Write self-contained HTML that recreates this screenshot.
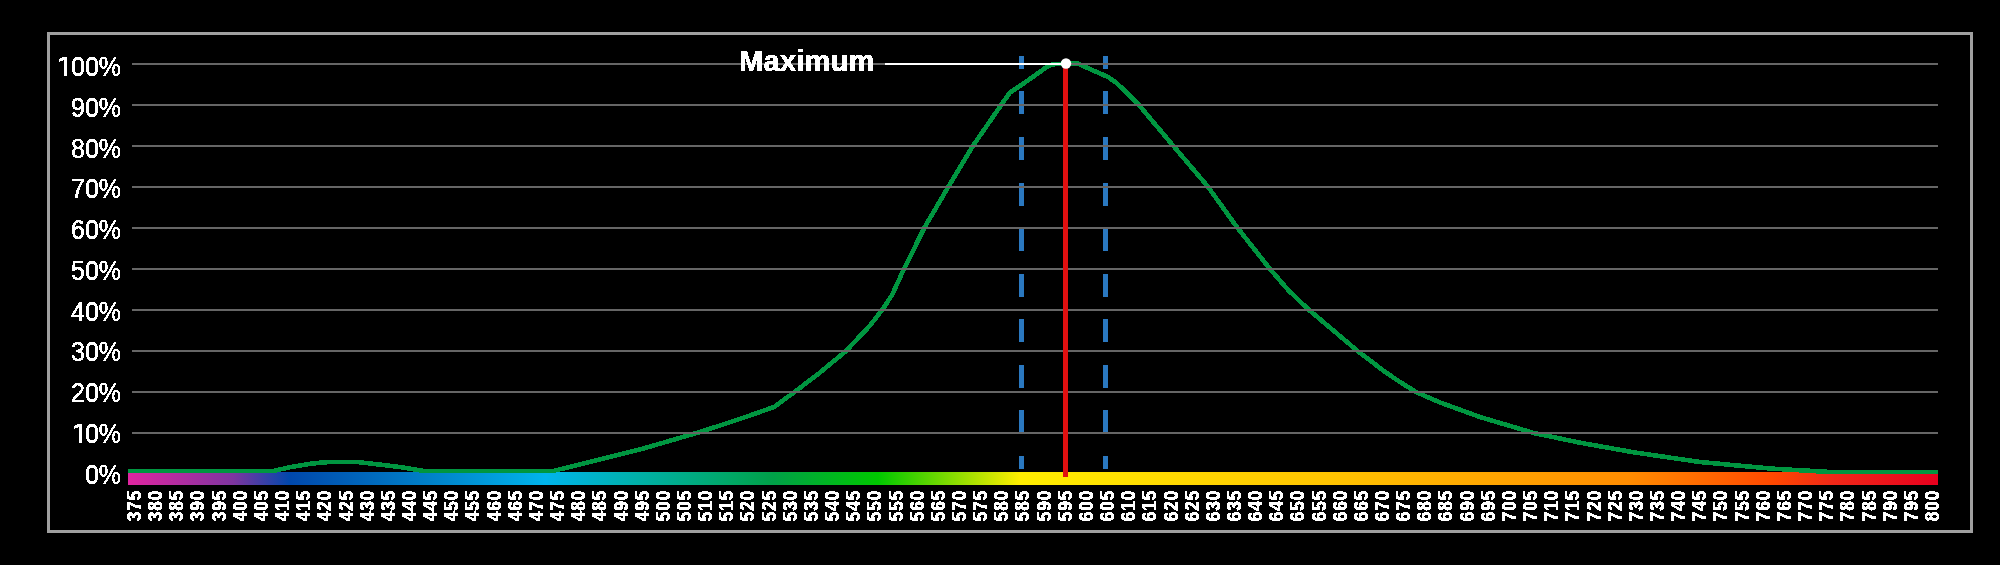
<!DOCTYPE html><html><head><meta charset="utf-8"><style>html,body{margin:0;padding:0;background:#000;width:2000px;height:565px;overflow:hidden}svg{display:block;will-change:transform}text{font-family:"Liberation Sans",sans-serif}</style></head><body><svg width="2000" height="565" viewBox="0 0 2000 565" shape-rendering="crispEdges"><defs><linearGradient id="sp" gradientUnits="userSpaceOnUse" x1="128" y1="0" x2="1938" y2="0"><stop offset="0.0000" stop-color="rgb(225, 37, 160)"/><stop offset="0.0580" stop-color="rgb(127, 53, 160)"/><stop offset="0.0895" stop-color="rgb(0, 72, 172)"/><stop offset="0.1657" stop-color="rgb(0, 128, 200)"/><stop offset="0.2304" stop-color="rgb(0, 180, 236)"/><stop offset="0.2818" stop-color="rgb(0, 176, 168)"/><stop offset="0.3315" stop-color="rgb(0, 168, 104)"/><stop offset="0.3564" stop-color="rgb(0, 160, 72)"/><stop offset="0.4144" stop-color="rgb(0, 200, 0)"/><stop offset="0.4928" stop-color="rgb(255, 238, 0)"/><stop offset="0.6630" stop-color="rgb(255, 196, 0)"/><stop offset="0.8287" stop-color="rgb(255, 140, 0)"/><stop offset="0.9088" stop-color="rgb(255, 72, 0)"/><stop offset="0.9420" stop-color="rgb(240, 40, 24)"/><stop offset="1.0000" stop-color="rgb(232, 0, 30)"/></linearGradient><filter id="crisp" x="-10%" y="-30%" width="120%" height="160%"><feComponentTransfer><feFuncA type="discrete" tableValues="0 1"/></feComponentTransfer></filter></defs><rect x="48.5" y="33.5" width="1923" height="498" fill="none" stroke="#a0a0a0" stroke-width="3"/><rect x="128" y="472" width="1810" height="13" fill="url(#sp)"/><path d="M128,471 L273,471 L290.5,467.1 L307.5,464.2 L322,462.4 L332,462 L357,462 L370.5,463.5 L387.5,465.5 L404.5,467.7 L417.2,469.9 L425,471.1 L553,471 L640,449.5 L700,432 L726,423.5 L747,416.5 L774,407 L794.5,392 L820,372.5 L846,351 L869.6,326 L882.5,309.5 L892,295 L904.2,268.5 L924.5,227.5 L948.5,186.5 L973.2,145.5 L1001.5,104.5 L1010,92.5 L1021.5,84.8 L1030,79 L1046.3,67.2 L1053,64.3 L1066,63.5 L1077,63.3 L1108,77 L1116,82.6 L1126.6,92.4 L1138.5,104.5 L1173,145.5 L1207.8,186.5 L1237.2,227.5 L1269.6,268.5 L1288.4,290.3 L1308.5,309.5 L1333,330.2 L1357,350.5 L1384.8,371.7 L1400,382 L1416,392 L1440,402.5 L1480,417 L1533.7,433 L1580,442.7 L1633.7,452.3 L1700,462 L1770,468.5 L1830,472 L1938,472" fill="none" stroke="#009640" stroke-width="4.6" stroke-linejoin="round" shape-rendering="crispEdges"/><line x1="1021.5" y1="469" x2="1021.5" y2="56" stroke="#2a78c0" stroke-width="5" stroke-dasharray="23 22.57" stroke-dashoffset="10"/><line x1="1105.5" y1="469" x2="1105.5" y2="56" stroke="#2a78c0" stroke-width="5" stroke-dasharray="23 22.57" stroke-dashoffset="10"/><rect x="132" y="63" width="1806" height="2" fill="#666"/><rect x="132" y="104" width="1806" height="2" fill="#666"/><rect x="132" y="145" width="1806" height="2" fill="#666"/><rect x="132" y="186" width="1806" height="2" fill="#666"/><rect x="132" y="227" width="1806" height="2" fill="#666"/><rect x="132" y="268" width="1806" height="2" fill="#666"/><rect x="132" y="309" width="1806" height="2" fill="#666"/><rect x="132" y="350" width="1806" height="2" fill="#666"/><rect x="132" y="391" width="1806" height="2" fill="#666"/><rect x="132" y="432" width="1806" height="2" fill="#666"/><rect x="1063" y="64" width="5" height="413" fill="#e01010"/><rect x="885" y="63" width="181" height="2" fill="#fff"/><circle cx="1066" cy="63.5" r="5.2" fill="#fff" shape-rendering="auto"/><g filter="url(#crisp)"><text transform="translate(739,70.7) scale(0.98,1)" font-size="30" font-weight="bold" fill="#fff" stroke="#fff" stroke-width="0.45">Maximum</text></g><g filter="url(#crisp)"><path d="M59,59.0 L64,56.7 L67,56.7 L67,76.0 L64,76.0 L64,60.300000000000004 L59,62.0 Z" fill="#fff"/><text x="121" y="76.0" font-size="27" fill="#fff" stroke="#fff" stroke-width="0.35" text-anchor="end" transform="translate(121,76.0) scale(0.925,1) translate(-121,-76.0)">00%</text><text x="121" y="116.78" font-size="27" fill="#fff" stroke="#fff" stroke-width="0.35" text-anchor="end" transform="translate(121,116.78) scale(0.925,1) translate(-121,-116.78)">90%</text><text x="121" y="157.56" font-size="27" fill="#fff" stroke="#fff" stroke-width="0.35" text-anchor="end" transform="translate(121,157.56) scale(0.925,1) translate(-121,-157.56)">80%</text><text x="121" y="198.34" font-size="27" fill="#fff" stroke="#fff" stroke-width="0.35" text-anchor="end" transform="translate(121,198.34) scale(0.925,1) translate(-121,-198.34)">70%</text><text x="121" y="239.12" font-size="27" fill="#fff" stroke="#fff" stroke-width="0.35" text-anchor="end" transform="translate(121,239.12) scale(0.925,1) translate(-121,-239.12)">60%</text><text x="121" y="279.9" font-size="27" fill="#fff" stroke="#fff" stroke-width="0.35" text-anchor="end" transform="translate(121,279.9) scale(0.925,1) translate(-121,-279.9)">50%</text><text x="121" y="320.68" font-size="27" fill="#fff" stroke="#fff" stroke-width="0.35" text-anchor="end" transform="translate(121,320.68) scale(0.925,1) translate(-121,-320.68)">40%</text><text x="121" y="361.46000000000004" font-size="27" fill="#fff" stroke="#fff" stroke-width="0.35" text-anchor="end" transform="translate(121,361.46000000000004) scale(0.925,1) translate(-121,-361.46000000000004)">30%</text><text x="121" y="402.24" font-size="27" fill="#fff" stroke="#fff" stroke-width="0.35" text-anchor="end" transform="translate(121,402.24) scale(0.925,1) translate(-121,-402.24)">20%</text><path d="M73.8,426.02 L78.8,423.71999999999997 L81.8,423.71999999999997 L81.8,443.02 L78.8,443.02 L78.8,427.32 L73.8,429.02 Z" fill="#fff"/><text x="121" y="443.02" font-size="27" fill="#fff" stroke="#fff" stroke-width="0.35" text-anchor="end" transform="translate(121,443.02) scale(0.925,1) translate(-121,-443.02)">0%</text><text x="121" y="483.8" font-size="27" fill="#fff" stroke="#fff" stroke-width="0.35" text-anchor="end" transform="translate(121,483.8) scale(0.925,1) translate(-121,-483.8)">0%</text><text transform="translate(141.00,505.6) rotate(-90) scale(0.86,1)" text-anchor="middle" font-size="20" font-weight="bold" letter-spacing="1.1" fill="#fff" stroke="#fff" stroke-width="0.5">375</text><text transform="translate(162.15,505.6) rotate(-90) scale(0.86,1)" text-anchor="middle" font-size="20" font-weight="bold" letter-spacing="1.1" fill="#fff" stroke="#fff" stroke-width="0.5">380</text><text transform="translate(183.31,505.6) rotate(-90) scale(0.86,1)" text-anchor="middle" font-size="20" font-weight="bold" letter-spacing="1.1" fill="#fff" stroke="#fff" stroke-width="0.5">385</text><text transform="translate(204.46,505.6) rotate(-90) scale(0.86,1)" text-anchor="middle" font-size="20" font-weight="bold" letter-spacing="1.1" fill="#fff" stroke="#fff" stroke-width="0.5">390</text><text transform="translate(225.61,505.6) rotate(-90) scale(0.86,1)" text-anchor="middle" font-size="20" font-weight="bold" letter-spacing="1.1" fill="#fff" stroke="#fff" stroke-width="0.5">395</text><text transform="translate(246.76,505.6) rotate(-90) scale(0.86,1)" text-anchor="middle" font-size="20" font-weight="bold" letter-spacing="1.1" fill="#fff" stroke="#fff" stroke-width="0.5">400</text><text transform="translate(267.92,505.6) rotate(-90) scale(0.86,1)" text-anchor="middle" font-size="20" font-weight="bold" letter-spacing="1.1" fill="#fff" stroke="#fff" stroke-width="0.5">405</text><text transform="translate(289.07,505.6) rotate(-90) scale(0.86,1)" text-anchor="middle" font-size="20" font-weight="bold" letter-spacing="1.1" fill="#fff" stroke="#fff" stroke-width="0.5">410</text><text transform="translate(310.22,505.6) rotate(-90) scale(0.86,1)" text-anchor="middle" font-size="20" font-weight="bold" letter-spacing="1.1" fill="#fff" stroke="#fff" stroke-width="0.5">415</text><text transform="translate(331.38,505.6) rotate(-90) scale(0.86,1)" text-anchor="middle" font-size="20" font-weight="bold" letter-spacing="1.1" fill="#fff" stroke="#fff" stroke-width="0.5">420</text><text transform="translate(352.53,505.6) rotate(-90) scale(0.86,1)" text-anchor="middle" font-size="20" font-weight="bold" letter-spacing="1.1" fill="#fff" stroke="#fff" stroke-width="0.5">425</text><text transform="translate(373.68,505.6) rotate(-90) scale(0.86,1)" text-anchor="middle" font-size="20" font-weight="bold" letter-spacing="1.1" fill="#fff" stroke="#fff" stroke-width="0.5">430</text><text transform="translate(394.84,505.6) rotate(-90) scale(0.86,1)" text-anchor="middle" font-size="20" font-weight="bold" letter-spacing="1.1" fill="#fff" stroke="#fff" stroke-width="0.5">435</text><text transform="translate(415.99,505.6) rotate(-90) scale(0.86,1)" text-anchor="middle" font-size="20" font-weight="bold" letter-spacing="1.1" fill="#fff" stroke="#fff" stroke-width="0.5">440</text><text transform="translate(437.14,505.6) rotate(-90) scale(0.86,1)" text-anchor="middle" font-size="20" font-weight="bold" letter-spacing="1.1" fill="#fff" stroke="#fff" stroke-width="0.5">445</text><text transform="translate(458.29,505.6) rotate(-90) scale(0.86,1)" text-anchor="middle" font-size="20" font-weight="bold" letter-spacing="1.1" fill="#fff" stroke="#fff" stroke-width="0.5">450</text><text transform="translate(479.45,505.6) rotate(-90) scale(0.86,1)" text-anchor="middle" font-size="20" font-weight="bold" letter-spacing="1.1" fill="#fff" stroke="#fff" stroke-width="0.5">455</text><text transform="translate(500.60,505.6) rotate(-90) scale(0.86,1)" text-anchor="middle" font-size="20" font-weight="bold" letter-spacing="1.1" fill="#fff" stroke="#fff" stroke-width="0.5">460</text><text transform="translate(521.75,505.6) rotate(-90) scale(0.86,1)" text-anchor="middle" font-size="20" font-weight="bold" letter-spacing="1.1" fill="#fff" stroke="#fff" stroke-width="0.5">465</text><text transform="translate(542.91,505.6) rotate(-90) scale(0.86,1)" text-anchor="middle" font-size="20" font-weight="bold" letter-spacing="1.1" fill="#fff" stroke="#fff" stroke-width="0.5">470</text><text transform="translate(564.06,505.6) rotate(-90) scale(0.86,1)" text-anchor="middle" font-size="20" font-weight="bold" letter-spacing="1.1" fill="#fff" stroke="#fff" stroke-width="0.5">475</text><text transform="translate(585.21,505.6) rotate(-90) scale(0.86,1)" text-anchor="middle" font-size="20" font-weight="bold" letter-spacing="1.1" fill="#fff" stroke="#fff" stroke-width="0.5">480</text><text transform="translate(606.37,505.6) rotate(-90) scale(0.86,1)" text-anchor="middle" font-size="20" font-weight="bold" letter-spacing="1.1" fill="#fff" stroke="#fff" stroke-width="0.5">485</text><text transform="translate(627.52,505.6) rotate(-90) scale(0.86,1)" text-anchor="middle" font-size="20" font-weight="bold" letter-spacing="1.1" fill="#fff" stroke="#fff" stroke-width="0.5">490</text><text transform="translate(648.67,505.6) rotate(-90) scale(0.86,1)" text-anchor="middle" font-size="20" font-weight="bold" letter-spacing="1.1" fill="#fff" stroke="#fff" stroke-width="0.5">495</text><text transform="translate(669.82,505.6) rotate(-90) scale(0.86,1)" text-anchor="middle" font-size="20" font-weight="bold" letter-spacing="1.1" fill="#fff" stroke="#fff" stroke-width="0.5">500</text><text transform="translate(690.98,505.6) rotate(-90) scale(0.86,1)" text-anchor="middle" font-size="20" font-weight="bold" letter-spacing="1.1" fill="#fff" stroke="#fff" stroke-width="0.5">505</text><text transform="translate(712.13,505.6) rotate(-90) scale(0.86,1)" text-anchor="middle" font-size="20" font-weight="bold" letter-spacing="1.1" fill="#fff" stroke="#fff" stroke-width="0.5">510</text><text transform="translate(733.28,505.6) rotate(-90) scale(0.86,1)" text-anchor="middle" font-size="20" font-weight="bold" letter-spacing="1.1" fill="#fff" stroke="#fff" stroke-width="0.5">515</text><text transform="translate(754.44,505.6) rotate(-90) scale(0.86,1)" text-anchor="middle" font-size="20" font-weight="bold" letter-spacing="1.1" fill="#fff" stroke="#fff" stroke-width="0.5">520</text><text transform="translate(775.59,505.6) rotate(-90) scale(0.86,1)" text-anchor="middle" font-size="20" font-weight="bold" letter-spacing="1.1" fill="#fff" stroke="#fff" stroke-width="0.5">525</text><text transform="translate(796.74,505.6) rotate(-90) scale(0.86,1)" text-anchor="middle" font-size="20" font-weight="bold" letter-spacing="1.1" fill="#fff" stroke="#fff" stroke-width="0.5">530</text><text transform="translate(817.90,505.6) rotate(-90) scale(0.86,1)" text-anchor="middle" font-size="20" font-weight="bold" letter-spacing="1.1" fill="#fff" stroke="#fff" stroke-width="0.5">535</text><text transform="translate(839.05,505.6) rotate(-90) scale(0.86,1)" text-anchor="middle" font-size="20" font-weight="bold" letter-spacing="1.1" fill="#fff" stroke="#fff" stroke-width="0.5">540</text><text transform="translate(860.20,505.6) rotate(-90) scale(0.86,1)" text-anchor="middle" font-size="20" font-weight="bold" letter-spacing="1.1" fill="#fff" stroke="#fff" stroke-width="0.5">545</text><text transform="translate(881.35,505.6) rotate(-90) scale(0.86,1)" text-anchor="middle" font-size="20" font-weight="bold" letter-spacing="1.1" fill="#fff" stroke="#fff" stroke-width="0.5">550</text><text transform="translate(902.51,505.6) rotate(-90) scale(0.86,1)" text-anchor="middle" font-size="20" font-weight="bold" letter-spacing="1.1" fill="#fff" stroke="#fff" stroke-width="0.5">555</text><text transform="translate(923.66,505.6) rotate(-90) scale(0.86,1)" text-anchor="middle" font-size="20" font-weight="bold" letter-spacing="1.1" fill="#fff" stroke="#fff" stroke-width="0.5">560</text><text transform="translate(944.81,505.6) rotate(-90) scale(0.86,1)" text-anchor="middle" font-size="20" font-weight="bold" letter-spacing="1.1" fill="#fff" stroke="#fff" stroke-width="0.5">565</text><text transform="translate(965.97,505.6) rotate(-90) scale(0.86,1)" text-anchor="middle" font-size="20" font-weight="bold" letter-spacing="1.1" fill="#fff" stroke="#fff" stroke-width="0.5">570</text><text transform="translate(987.12,505.6) rotate(-90) scale(0.86,1)" text-anchor="middle" font-size="20" font-weight="bold" letter-spacing="1.1" fill="#fff" stroke="#fff" stroke-width="0.5">575</text><text transform="translate(1008.27,505.6) rotate(-90) scale(0.86,1)" text-anchor="middle" font-size="20" font-weight="bold" letter-spacing="1.1" fill="#fff" stroke="#fff" stroke-width="0.5">580</text><text transform="translate(1029.43,505.6) rotate(-90) scale(0.86,1)" text-anchor="middle" font-size="20" font-weight="bold" letter-spacing="1.1" fill="#fff" stroke="#fff" stroke-width="0.5">585</text><text transform="translate(1050.58,505.6) rotate(-90) scale(0.86,1)" text-anchor="middle" font-size="20" font-weight="bold" letter-spacing="1.1" fill="#fff" stroke="#fff" stroke-width="0.5">590</text><text transform="translate(1071.73,505.6) rotate(-90) scale(0.86,1)" text-anchor="middle" font-size="20" font-weight="bold" letter-spacing="1.1" fill="#fff" stroke="#fff" stroke-width="0.5">595</text><text transform="translate(1092.88,505.6) rotate(-90) scale(0.86,1)" text-anchor="middle" font-size="20" font-weight="bold" letter-spacing="1.1" fill="#fff" stroke="#fff" stroke-width="0.5">600</text><text transform="translate(1114.04,505.6) rotate(-90) scale(0.86,1)" text-anchor="middle" font-size="20" font-weight="bold" letter-spacing="1.1" fill="#fff" stroke="#fff" stroke-width="0.5">605</text><text transform="translate(1135.19,505.6) rotate(-90) scale(0.86,1)" text-anchor="middle" font-size="20" font-weight="bold" letter-spacing="1.1" fill="#fff" stroke="#fff" stroke-width="0.5">610</text><text transform="translate(1156.34,505.6) rotate(-90) scale(0.86,1)" text-anchor="middle" font-size="20" font-weight="bold" letter-spacing="1.1" fill="#fff" stroke="#fff" stroke-width="0.5">615</text><text transform="translate(1177.50,505.6) rotate(-90) scale(0.86,1)" text-anchor="middle" font-size="20" font-weight="bold" letter-spacing="1.1" fill="#fff" stroke="#fff" stroke-width="0.5">620</text><text transform="translate(1198.65,505.6) rotate(-90) scale(0.86,1)" text-anchor="middle" font-size="20" font-weight="bold" letter-spacing="1.1" fill="#fff" stroke="#fff" stroke-width="0.5">625</text><text transform="translate(1219.80,505.6) rotate(-90) scale(0.86,1)" text-anchor="middle" font-size="20" font-weight="bold" letter-spacing="1.1" fill="#fff" stroke="#fff" stroke-width="0.5">630</text><text transform="translate(1240.96,505.6) rotate(-90) scale(0.86,1)" text-anchor="middle" font-size="20" font-weight="bold" letter-spacing="1.1" fill="#fff" stroke="#fff" stroke-width="0.5">635</text><text transform="translate(1262.11,505.6) rotate(-90) scale(0.86,1)" text-anchor="middle" font-size="20" font-weight="bold" letter-spacing="1.1" fill="#fff" stroke="#fff" stroke-width="0.5">640</text><text transform="translate(1283.26,505.6) rotate(-90) scale(0.86,1)" text-anchor="middle" font-size="20" font-weight="bold" letter-spacing="1.1" fill="#fff" stroke="#fff" stroke-width="0.5">645</text><text transform="translate(1304.41,505.6) rotate(-90) scale(0.86,1)" text-anchor="middle" font-size="20" font-weight="bold" letter-spacing="1.1" fill="#fff" stroke="#fff" stroke-width="0.5">650</text><text transform="translate(1325.57,505.6) rotate(-90) scale(0.86,1)" text-anchor="middle" font-size="20" font-weight="bold" letter-spacing="1.1" fill="#fff" stroke="#fff" stroke-width="0.5">655</text><text transform="translate(1346.72,505.6) rotate(-90) scale(0.86,1)" text-anchor="middle" font-size="20" font-weight="bold" letter-spacing="1.1" fill="#fff" stroke="#fff" stroke-width="0.5">660</text><text transform="translate(1367.87,505.6) rotate(-90) scale(0.86,1)" text-anchor="middle" font-size="20" font-weight="bold" letter-spacing="1.1" fill="#fff" stroke="#fff" stroke-width="0.5">665</text><text transform="translate(1389.03,505.6) rotate(-90) scale(0.86,1)" text-anchor="middle" font-size="20" font-weight="bold" letter-spacing="1.1" fill="#fff" stroke="#fff" stroke-width="0.5">670</text><text transform="translate(1410.18,505.6) rotate(-90) scale(0.86,1)" text-anchor="middle" font-size="20" font-weight="bold" letter-spacing="1.1" fill="#fff" stroke="#fff" stroke-width="0.5">675</text><text transform="translate(1431.33,505.6) rotate(-90) scale(0.86,1)" text-anchor="middle" font-size="20" font-weight="bold" letter-spacing="1.1" fill="#fff" stroke="#fff" stroke-width="0.5">680</text><text transform="translate(1452.49,505.6) rotate(-90) scale(0.86,1)" text-anchor="middle" font-size="20" font-weight="bold" letter-spacing="1.1" fill="#fff" stroke="#fff" stroke-width="0.5">685</text><text transform="translate(1473.64,505.6) rotate(-90) scale(0.86,1)" text-anchor="middle" font-size="20" font-weight="bold" letter-spacing="1.1" fill="#fff" stroke="#fff" stroke-width="0.5">690</text><text transform="translate(1494.79,505.6) rotate(-90) scale(0.86,1)" text-anchor="middle" font-size="20" font-weight="bold" letter-spacing="1.1" fill="#fff" stroke="#fff" stroke-width="0.5">695</text><text transform="translate(1515.94,505.6) rotate(-90) scale(0.86,1)" text-anchor="middle" font-size="20" font-weight="bold" letter-spacing="1.1" fill="#fff" stroke="#fff" stroke-width="0.5">700</text><text transform="translate(1537.10,505.6) rotate(-90) scale(0.86,1)" text-anchor="middle" font-size="20" font-weight="bold" letter-spacing="1.1" fill="#fff" stroke="#fff" stroke-width="0.5">705</text><text transform="translate(1558.25,505.6) rotate(-90) scale(0.86,1)" text-anchor="middle" font-size="20" font-weight="bold" letter-spacing="1.1" fill="#fff" stroke="#fff" stroke-width="0.5">710</text><text transform="translate(1579.40,505.6) rotate(-90) scale(0.86,1)" text-anchor="middle" font-size="20" font-weight="bold" letter-spacing="1.1" fill="#fff" stroke="#fff" stroke-width="0.5">715</text><text transform="translate(1600.56,505.6) rotate(-90) scale(0.86,1)" text-anchor="middle" font-size="20" font-weight="bold" letter-spacing="1.1" fill="#fff" stroke="#fff" stroke-width="0.5">720</text><text transform="translate(1621.71,505.6) rotate(-90) scale(0.86,1)" text-anchor="middle" font-size="20" font-weight="bold" letter-spacing="1.1" fill="#fff" stroke="#fff" stroke-width="0.5">725</text><text transform="translate(1642.86,505.6) rotate(-90) scale(0.86,1)" text-anchor="middle" font-size="20" font-weight="bold" letter-spacing="1.1" fill="#fff" stroke="#fff" stroke-width="0.5">730</text><text transform="translate(1664.02,505.6) rotate(-90) scale(0.86,1)" text-anchor="middle" font-size="20" font-weight="bold" letter-spacing="1.1" fill="#fff" stroke="#fff" stroke-width="0.5">735</text><text transform="translate(1685.17,505.6) rotate(-90) scale(0.86,1)" text-anchor="middle" font-size="20" font-weight="bold" letter-spacing="1.1" fill="#fff" stroke="#fff" stroke-width="0.5">740</text><text transform="translate(1706.32,505.6) rotate(-90) scale(0.86,1)" text-anchor="middle" font-size="20" font-weight="bold" letter-spacing="1.1" fill="#fff" stroke="#fff" stroke-width="0.5">745</text><text transform="translate(1727.47,505.6) rotate(-90) scale(0.86,1)" text-anchor="middle" font-size="20" font-weight="bold" letter-spacing="1.1" fill="#fff" stroke="#fff" stroke-width="0.5">750</text><text transform="translate(1748.63,505.6) rotate(-90) scale(0.86,1)" text-anchor="middle" font-size="20" font-weight="bold" letter-spacing="1.1" fill="#fff" stroke="#fff" stroke-width="0.5">755</text><text transform="translate(1769.78,505.6) rotate(-90) scale(0.86,1)" text-anchor="middle" font-size="20" font-weight="bold" letter-spacing="1.1" fill="#fff" stroke="#fff" stroke-width="0.5">760</text><text transform="translate(1790.93,505.6) rotate(-90) scale(0.86,1)" text-anchor="middle" font-size="20" font-weight="bold" letter-spacing="1.1" fill="#fff" stroke="#fff" stroke-width="0.5">765</text><text transform="translate(1812.09,505.6) rotate(-90) scale(0.86,1)" text-anchor="middle" font-size="20" font-weight="bold" letter-spacing="1.1" fill="#fff" stroke="#fff" stroke-width="0.5">770</text><text transform="translate(1833.24,505.6) rotate(-90) scale(0.86,1)" text-anchor="middle" font-size="20" font-weight="bold" letter-spacing="1.1" fill="#fff" stroke="#fff" stroke-width="0.5">775</text><text transform="translate(1854.39,505.6) rotate(-90) scale(0.86,1)" text-anchor="middle" font-size="20" font-weight="bold" letter-spacing="1.1" fill="#fff" stroke="#fff" stroke-width="0.5">780</text><text transform="translate(1875.55,505.6) rotate(-90) scale(0.86,1)" text-anchor="middle" font-size="20" font-weight="bold" letter-spacing="1.1" fill="#fff" stroke="#fff" stroke-width="0.5">785</text><text transform="translate(1896.70,505.6) rotate(-90) scale(0.86,1)" text-anchor="middle" font-size="20" font-weight="bold" letter-spacing="1.1" fill="#fff" stroke="#fff" stroke-width="0.5">790</text><text transform="translate(1917.85,505.6) rotate(-90) scale(0.86,1)" text-anchor="middle" font-size="20" font-weight="bold" letter-spacing="1.1" fill="#fff" stroke="#fff" stroke-width="0.5">795</text><text transform="translate(1939.00,505.6) rotate(-90) scale(0.86,1)" text-anchor="middle" font-size="20" font-weight="bold" letter-spacing="1.1" fill="#fff" stroke="#fff" stroke-width="0.5">800</text></g></svg></body></html>
